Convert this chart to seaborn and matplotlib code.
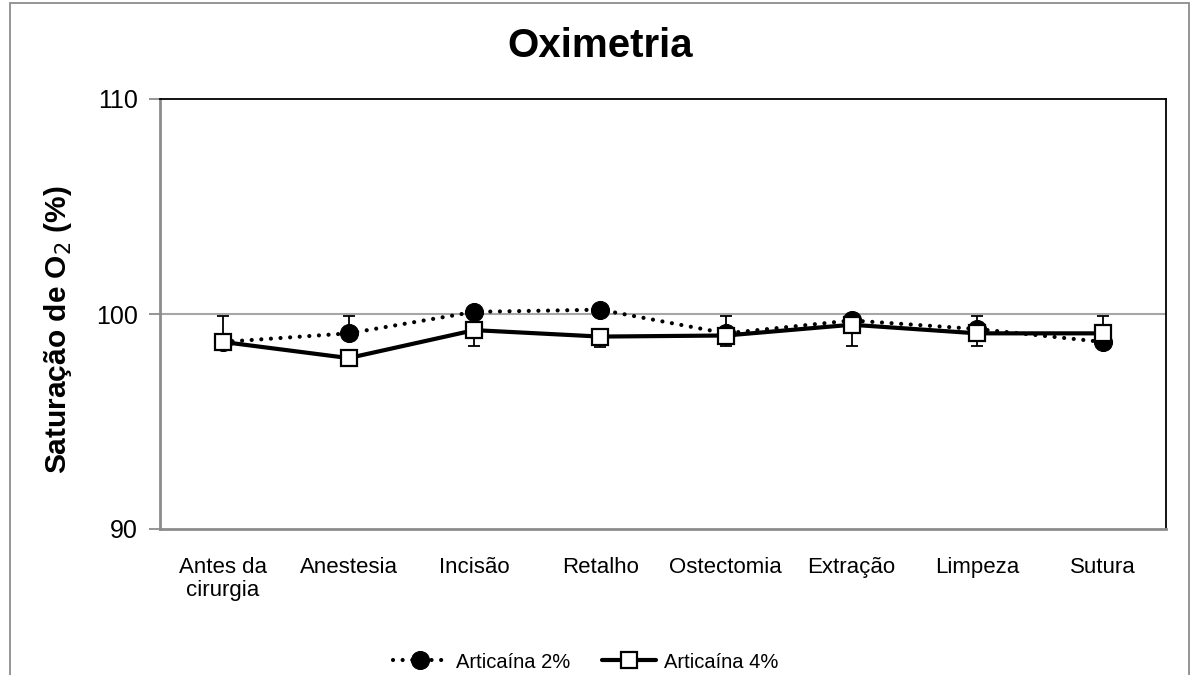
import numpy as np
import pandas as pd
import matplotlib
matplotlib.use("Agg")
import matplotlib.pyplot as plt
from matplotlib.patches import Rectangle
import seaborn as sns

# Surgical phases (x categories)
fases = ["Antes da\ncirurgia", "Anestesia", "Incisão", "Retalho",
         "Ostectomia", "Extração", "Limpeza", "Sutura"]

# Mean O2 saturation (%) per group
sat_2 = [98.7, 99.1, 100.1, 100.2, 99.1, 99.7, 99.3, 98.7]
sat_4 = [98.7, 97.95, 99.25, 98.95, 99.0, 99.5, 99.1, 99.1]

# Error bar extents (upper for 2%, lower for 4%)
err_2_up = [1.2, 0.8, 0.0, 0.0, 0.8, 0.2, 0.6, 1.2]
err_4_down = [0.3, 0.3, 0.75, 0.5, 0.5, 1.0, 0.6, 0.6]

y_ticks = [90, 100, 110]

sns.set_theme(style="white")
plt.rcParams["font.family"] = ["Liberation Sans", "DejaVu Sans"]
plt.rcParams["text.color"] = "black"
plt.rcParams["axes.labelcolor"] = "black"
plt.rcParams["xtick.color"] = "black"
plt.rcParams["ytick.color"] = "black"

W, H = 1197, 675
fig = plt.figure(figsize=(W / 100, H / 100), dpi=100)
ax = fig.add_axes([160 / W, 1 - 529 / H, (1166 - 160) / W, (529 - 99) / H])

df2 = pd.DataFrame({"fase": fases, "sat": sat_2})
df4 = pd.DataFrame({"fase": fases, "sat": sat_4})
x = np.arange(len(fases))

# Error bars first so markers sit on top
ax.errorbar(x, sat_2, yerr=[np.zeros(len(x)), err_2_up], fmt="none",
            ecolor="black", elinewidth=1.3, capsize=4.5, capthick=1.3, zorder=2)
ax.errorbar(x, sat_4, yerr=[err_4_down, np.zeros(len(x))], fmt="none",
            ecolor="black", elinewidth=1.3, capsize=4.5, capthick=1.3, zorder=2)

sns.lineplot(data=df2, x="fase", y="sat", sort=False, ax=ax, color="black",
             linewidth=3.0, linestyle=(0, (0.01, 2.3)), dash_capstyle="round",
             marker="o", markersize=13, markerfacecolor="black",
             markeredgecolor="black", label="Articaína 2%", zorder=3)
sns.lineplot(data=df4, x="fase", y="sat", sort=False, ax=ax, color="black",
             linewidth=3.0, linestyle="-", marker="s", markersize=11.5,
             markerfacecolor="white", markeredgecolor="black",
             markeredgewidth=1.6, label="Articaína 4%", zorder=4)

ax.set_xlim(-0.5, len(fases) - 0.5)
ax.set_ylim(90, 110)
ax.set_yticks(y_ticks)
ax.set_yticklabels([str(t) for t in y_ticks], fontsize=18)
ax.set_xticks(x)
ax.set_xticklabels(fases, fontsize=16, linespacing=1.15)
ax.tick_params(axis="x", length=0, pad=20)
ax.tick_params(axis="y", length=8, width=1.3, color="#8c8c8c", pad=8,
               direction="out", left=True, labelcolor="black")
ax.set_xlabel("")
ax.set_ylabel("")

# Gridline at 100
ax.axhline(100, color="#a6a6a6", linewidth=1.5, zorder=1)

for side in ["left", "bottom"]:
    ax.spines[side].set_color("#8c8c8c")
    ax.spines[side].set_linewidth(2.0)
for side in ["top", "right"]:
    ax.spines[side].set_color("black")
    ax.spines[side].set_linewidth(1.3)

fig.text(600 / W, 1 - 46 / H, "Oximetria", ha="center", va="center",
         fontsize=29, fontweight="bold")
fig.text(58 / W, 1 - 330 / H, "Saturação de O$_2$ (%)", rotation=90,
         ha="center", va="center", fontsize=21.5, fontweight="bold")

leg = ax.legend(loc="center", bbox_to_anchor=(586 / W, 1 - 662 / H),
                bbox_transform=fig.transFigure, ncol=2, frameon=False,
                fontsize=14.5, handlelength=2.7, columnspacing=1.6,
                handletextpad=0.4)

# Outer chart frame
fig.patches.append(Rectangle((10 / W, -0.05), (1189 - 10) / W, 0.05 + (H - 3) / H,
                             transform=fig.transFigure, fill=False,
                             edgecolor="#8c8c8c", linewidth=1.3))

fig.savefig("out.png", dpi=100)
